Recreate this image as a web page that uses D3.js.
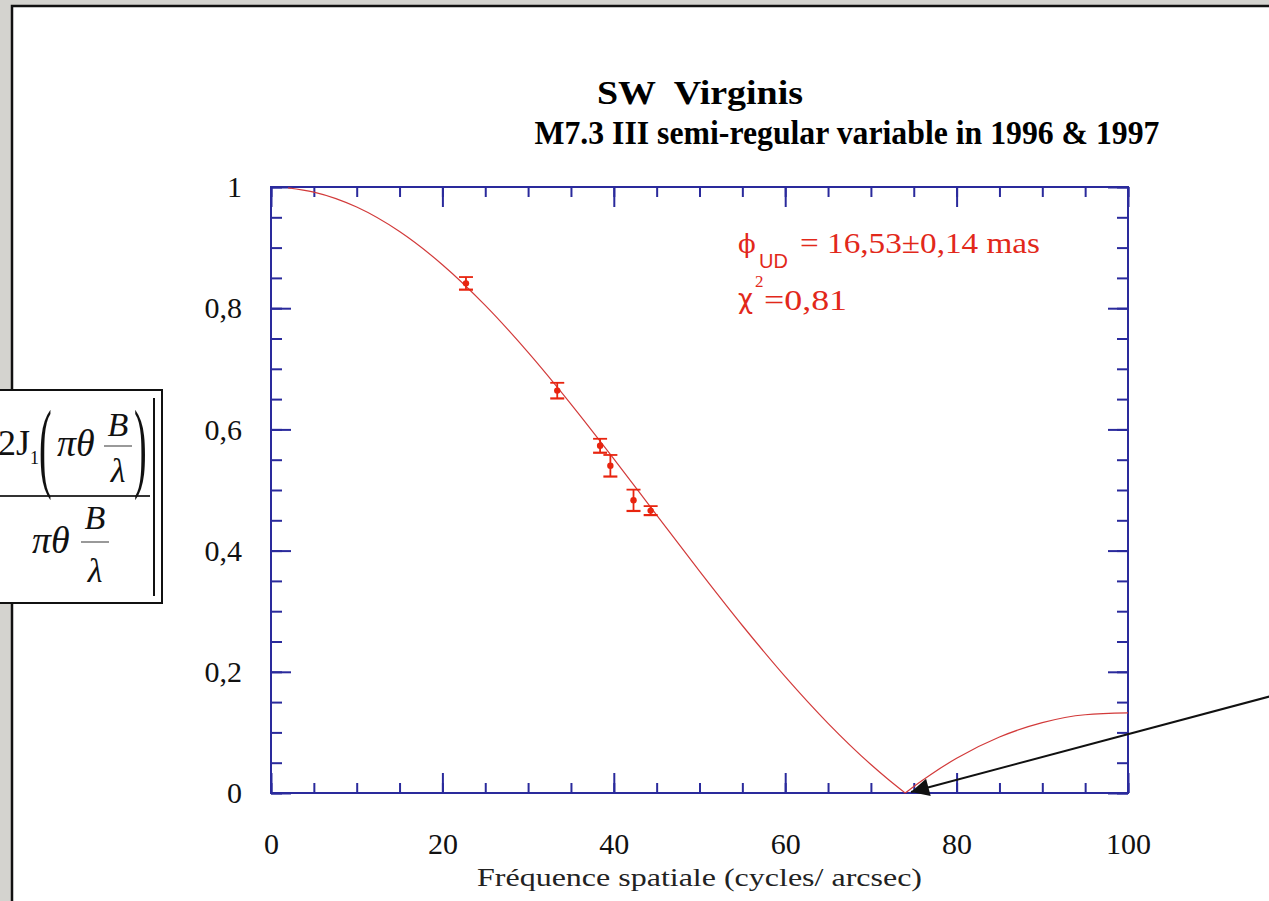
<html>
<head>
    <title>SW Virginis</title>
    <script src="https://d3js.org/d3.v7.min.js"></script>
    <style>
        body { margin: 0; background: #d4d3cf; overflow: hidden; }
    </style>
</head>
<body>
    <svg id="chart" width="1269" height="901"></svg>

    <script>
        // model curve (uniform disk)
        const modelFreq = [2, 5, 10, 15, 20, 25, 30, 35, 40, 45, 50, 55, 60, 65, 70, 72, 74, 75, 77, 80, 85, 90, 95, 100];
        const modelVis = [0.9987, 0.9916, 0.9669, 0.9265, 0.8718, 0.8047, 0.7272, 0.6419, 0.5515, 0.4586, 0.3661, 0.2764,
                          0.1920, 0.1150, 0.0470, 0.0227, 0, 0.0108, 0.0307, 0.0573, 0.0923, 0.1161, 0.1291, 0.1322];

        // measured visibilities with error bars
        const obsFreq = [22.75, 33.4, 38.4, 39.6, 42.3, 44.3];
        const obsVis = [0.841, 0.664, 0.573, 0.540, 0.483, 0.466];
        const obsErr = [0.0104, 0.0129, 0.0115, 0.0178, 0.0176, 0.0074];

        const xMajor = [0, 20, 40, 60, 80, 100];
        const yMajor = [0, 0.2, 0.4, 0.6, 0.8, 1];
        const yLabels = ['0', '0,2', '0,4', '0,6', '0,8', '1'];

        const svg = d3.select('svg#chart');
        const width = +svg.attr('width');
        const height = +svg.attr('height');

        const margins = { top: 187, right: 141, bottom: 108, left: 271 };
        const chartWidth = width - margins.left - margins.right;
        const chartHeight = height - margins.top - margins.bottom;

        // white panel with black top/left edge
        svg.append('rect')
           .attr('x', 12).attr('y', 6)
           .attr('width', width).attr('height', height)
           .attr('fill', 'white')
           .attr('stroke', '#111')
           .attr('stroke-width', 2.5);

        const chartArea = svg.append('g')
                             .attr('transform', `translate(${margins.left}, ${margins.top})`);

        const xScale = d3.scaleLinear().domain([0, 100]).range([0, chartWidth]);
        const yScale = d3.scaleLinear().domain([0, 1]).range([chartHeight, 0]);

        const frameColor = '#2a2a9c';
        const serif = 'Liberation Serif, Times New Roman, serif';

        const xMinor = d3.range(0, 101, 5);
        const yMinor = d3.range(0, 1.0001, 0.05);

        function styleAxis(g) {
            g.select('.domain').remove();
            g.selectAll('line').attr('stroke', frameColor).attr('stroke-width', 2);
            g.selectAll('text')
             .attr('fill', '#111')
             .style('font-family', serif)
             .style('font-size', '30px');
        }

        // minor ticks, all four sides
        chartArea.append('g').attr('transform', `translate(0, ${chartHeight})`)
                 .call(d3.axisBottom(xScale).tickValues(xMinor).tickSize(-10).tickFormat(''))
                 .call(styleAxis);
        chartArea.append('g')
                 .call(d3.axisTop(xScale).tickValues(xMinor).tickSize(-10).tickFormat(''))
                 .call(styleAxis);
        chartArea.append('g')
                 .call(d3.axisLeft(yScale).tickValues(yMinor).tickSize(-11).tickFormat(''))
                 .call(styleAxis);
        chartArea.append('g').attr('transform', `translate(${chartWidth}, 0)`)
                 .call(d3.axisRight(yScale).tickValues(yMinor).tickSize(-11).tickFormat(''))
                 .call(styleAxis);

        // major ticks with labels
        chartArea.append('g').attr('transform', `translate(0, ${chartHeight})`)
                 .call(d3.axisBottom(xScale).tickValues(xMajor).tickSize(-20).tickPadding(40).tickFormat(d3.format('d')))
                 .call(styleAxis);
        chartArea.append('g')
                 .call(d3.axisTop(xScale).tickValues(xMajor).tickSize(-20).tickFormat(''))
                 .call(styleAxis);
        chartArea.append('g')
                 .call(d3.axisLeft(yScale).tickValues(yMajor).tickSize(-20).tickPadding(29)
                         .tickFormat((d, i) => yLabels[i]))
                 .call(styleAxis);
        chartArea.append('g').attr('transform', `translate(${chartWidth}, 0)`)
                 .call(d3.axisRight(yScale).tickValues(yMajor).tickSize(-20).tickFormat(''))
                 .call(styleAxis);

        // frame
        chartArea.append('rect')
                 .attr('width', chartWidth).attr('height', chartHeight)
                 .attr('fill', 'none')
                 .attr('stroke', frameColor)
                 .attr('stroke-width', 2);

        // model curve, two branches so the zero stays sharp
        const model = modelFreq.map((f, i) => ({ f: f, v: modelVis[i] }));
        const line = d3.line()
                       .x(d => xScale(d.f))
                       .y(d => yScale(d.v))
                       .curve(d3.curveMonotoneX);
        [model.filter(d => d.f <= 74), model.filter(d => d.f >= 74)].forEach(branch => {
            chartArea.append('path')
                     .datum(branch)
                     .attr('d', line)
                     .attr('fill', 'none')
                     .attr('stroke', '#d23a3a')
                     .attr('stroke-width', 1.2);
        });

        // data points
        const obs = obsFreq.map((f, i) => ({ f: f, v: obsVis[i], e: obsErr[i] }));
        const pts = chartArea.append('g').attr('stroke', '#e8240f').attr('fill', '#e8240f');
        pts.selectAll('line.bar').data(obs).enter().append('line')
           .attr('x1', d => xScale(d.f)).attr('x2', d => xScale(d.f))
           .attr('y1', d => yScale(d.v - d.e)).attr('y2', d => yScale(d.v + d.e))
           .attr('stroke-width', 1.8);
        pts.selectAll('line.top').data(obs).enter().append('line')
           .attr('x1', d => xScale(d.f) - 7).attr('x2', d => xScale(d.f) + 7)
           .attr('y1', d => yScale(d.v + d.e)).attr('y2', d => yScale(d.v + d.e))
           .attr('stroke-width', 1.8);
        pts.selectAll('line.bot').data(obs).enter().append('line')
           .attr('x1', d => xScale(d.f) - 7).attr('x2', d => xScale(d.f) + 7)
           .attr('y1', d => yScale(d.v - d.e)).attr('y2', d => yScale(d.v - d.e))
           .attr('stroke-width', 2.2);
        pts.selectAll('circle').data(obs).enter().append('circle')
           .attr('cx', d => xScale(d.f)).attr('cy', d => yScale(d.v))
           .attr('r', 3.2).attr('stroke', 'none');

        // fit result
        const red = '#e2281a';
        svg.append('text').attr('x', 738).attr('y', 253).attr('fill', red)
           .style('font-family', 'DejaVu Serif, serif').style('font-size', '26px').text('ϕ');
        svg.append('text').attr('x', 759).attr('y', 268).attr('fill', red)
           .style('font-family', 'Liberation Sans, Arial, sans-serif').style('font-size', '20px').text('UD');
        svg.append('text')
           .attr('x', 800).attr('y', 253)
           .attr('fill', red)
           .attr('textLength', 240).attr('lengthAdjust', 'spacingAndGlyphs')
           .style('font-family', serif).style('font-size', '30px')
           .text('= 16,53±0,14 mas');

        svg.append('text').attr('x', 738).attr('y', 308).attr('fill', red)
           .style('font-family', 'DejaVu Sans, sans-serif').style('font-size', '26px').text('χ');
        svg.append('text').attr('x', 755).attr('y', 287).attr('fill', red)
           .style('font-family', serif).style('font-size', '17px').text('2');
        svg.append('text').attr('x', 764).attr('y', 310).attr('fill', red)
           .attr('textLength', 83).attr('lengthAdjust', 'spacingAndGlyphs')
           .style('font-family', serif).style('font-size', '30px').text('=0,81');

        // titles (second line sits to the right of the first one's centre)
        svg.append('text').attr('x', 700).attr('y', 104)
           .attr('text-anchor', 'middle')
           .attr('textLength', 206).attr('lengthAdjust', 'spacingAndGlyphs')
           .style('font-family', serif).style('font-weight', 'bold').style('font-size', '33px')
           .style('white-space', 'pre')
           .text('SW  Virginis');
        svg.append('text').attr('x', 847).attr('y', 144)
           .attr('text-anchor', 'middle')
           .attr('textLength', 625).attr('lengthAdjust', 'spacingAndGlyphs')
           .style('font-family', serif).style('font-weight', 'bold').style('font-size', '33px')
           .text('M7.3 III semi-regular variable in 1996 & 1997');

        // x axis label
        svg.append('text').attr('x', margins.left + chartWidth / 2).attr('y', 886)
           .attr('text-anchor', 'middle')
           .attr('fill', '#222')
           .attr('textLength', 445).attr('lengthAdjust', 'spacingAndGlyphs')
           .style('font-family', serif).style('font-size', '25px')
           .text('Fréquence spatiale (cycles/ arcsec)');

        // formula box on the left
        const fx = svg.append('g').attr('fill', '#111').style('font-family', serif);
        fx.append('rect').attr('x', -4).attr('y', 390).attr('width', 166).attr('height', 213)
          .attr('fill', 'white').attr('stroke', '#111').attr('stroke-width', 2);
        fx.append('line').attr('x1', 154).attr('x2', 154).attr('y1', 398).attr('y2', 596)
          .attr('stroke', '#111').attr('stroke-width', 2);
        fx.append('line').attr('x1', -4).attr('x2', 150).attr('y1', 496).attr('y2', 496)
          .attr('stroke', '#333').attr('stroke-width', 2);
        fx.append('text').attr('x', 30).attr('y', 455).attr('text-anchor', 'end')
          .style('font-size', '36px').text('2J');
        fx.append('text').attr('x', 30).attr('y', 464).style('font-size', '18px').text('1');
        // tall thin parentheses: a normal glyph stretched vertically
        fx.append('text').attr('transform', 'translate(39, 479) scale(1, 2.6)')
          .style('font-size', '38px').text('(');
        fx.append('text').attr('transform', 'translate(134, 479) scale(1, 2.6)')
          .style('font-size', '38px').text(')');
        fx.append('text').attr('x', 57).attr('y', 456).style('font-style', 'italic')
          .style('font-size', '38px').text('πθ');
        fx.append('text').attr('x', 32).attr('y', 553).style('font-style', 'italic')
          .style('font-size', '38px').text('πθ');
        [[118, 436, 446, 482], [95, 529, 542, 582]].forEach(([x, yb, ybar, yl]) => {
            fx.append('text').attr('x', x).attr('y', yb).attr('text-anchor', 'middle')
              .style('font-style', 'italic').style('font-size', '34px').text('B');
            fx.append('line').attr('x1', x - 14).attr('x2', x + 14).attr('y1', ybar).attr('y2', ybar)
              .attr('stroke', '#777').attr('stroke-width', 1.5);
            fx.append('text').attr('x', x).attr('y', yl).attr('text-anchor', 'middle')
              .style('font-style', 'italic').style('font-size', '34px').text('λ');
        });

        // arrow pointing at the first zero
        svg.append('defs').append('marker')
           .attr('id', 'head').attr('viewBox', '0 0 10 10')
           .attr('refX', 10).attr('refY', 5)
           .attr('markerWidth', 11).attr('markerHeight', 9)
           .attr('markerUnits', 'strokeWidth')
           .attr('orient', 'auto')
           .append('path').attr('d', 'M0,0 L10,5 L0,10 Z').attr('fill', '#111');
        svg.append('line')
           .attr('x1', 1275).attr('y1', 695)
           .attr('x2', 911).attr('y2', 792)
           .attr('stroke', '#111').attr('stroke-width', 2)
           .attr('marker-end', 'url(#head)');
    </script>
</body>
</html>
